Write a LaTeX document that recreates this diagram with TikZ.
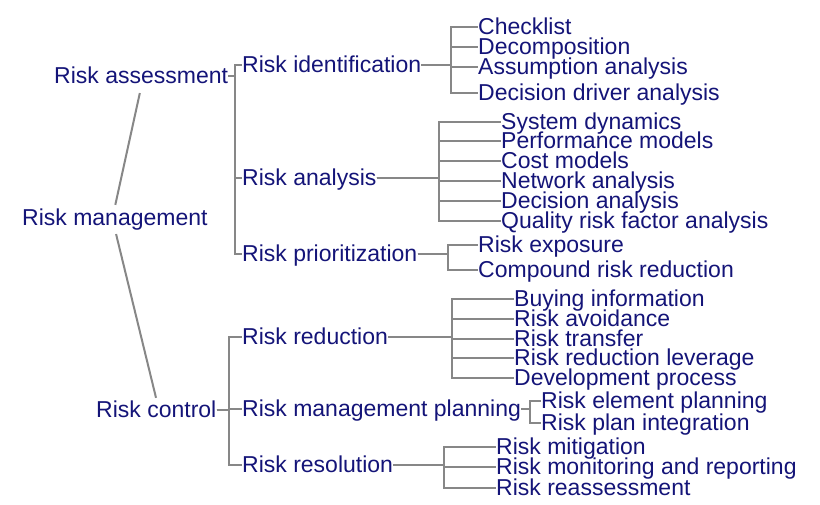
\documentclass[tikz,border=0pt]{standalone}
\usepackage{fontspec}
\setmainfont{Liberation Sans}
\usetikzlibrary{positioning}

\definecolor{navy}{RGB}{20,20,120}
\definecolor{linkgray}{RGB}{135,135,135}

\tikzset{
  item/.style={anchor=west, inner sep=0pt, text=navy, text height=18pt, text depth=4pt,
    font=\fontsize{23}{23}\selectfont},
  link/.style={draw=linkgray, line width=2pt},
}

\begin{document}
\begin{tikzpicture}[x=1pt,y=-1pt]
\useasboundingbox (0,0) rectangle (820,504);

            % first two levels
            \node[item] (rm) at (22,218) {Risk management};
            \node[item] (ra) at (54,76) {Risk assessment};
            \node[item] (rc) at (96,410) {Risk control};

            \draw[link, shorten <=6pt, shorten >=2pt] (ra.south) -- (rm.north);
            \draw[link, shorten <=5pt, shorten >=1pt] (rm.south) -- (rc.north);

            \node[item] (ident) at (242,65) {Risk identification};
            \node[item] (anal) at (242,178) {Risk analysis};
            \node[item] (prio) at (242,254) {Risk prioritization};
            \node[item] (redu) at (242,337) {Risk reduction};
            \node[item] (plan) at (242,409) {Risk management planning};
            \node[item] (reso) at (242,465) {Risk resolution};

            \foreach \n in {ident,anal,prio}{
              \draw[link] (ra.east) -| (235,0 |- \n.west) -- (\n.west);
            }
            \foreach \n in {redu,plan,reso}{
              \draw[link] (rc.east) -| (229,0 |- \n.west) -- (\n.west);
            }

            % leaves
            \foreach \txt/\yy [count=\i] in {Checklist/27,Decomposition/47,Assumption analysis/67,Decision driver analysis/93}{
              \node[item] (id\i) at (478,\yy) {\txt};
              \draw[link] (ident.east) -| (451,\yy) -- (id\i.west);
            }

            \foreach \txt/\yy [count=\i] in {System dynamics/122,Performance models/141,Cost models/161,Network analysis/181,Decision analysis/201,Quality risk factor analysis/221}{
              \node[item] (an\i) at (501,\yy) {\txt};
              \draw[link] (anal.east) -| (439,\yy) -- (an\i.west);
            }

            \foreach \txt/\yy [count=\i] in {Risk exposure/245,Compound risk reduction/270}{
              \node[item] (pr\i) at (478,\yy) {\txt};
              \draw[link] (prio.east) -| (448,\yy) -- (pr\i.west);
            }

            \foreach \txt/\yy [count=\i] in {Buying information/299,Risk avoidance/319,Risk transfer/339,Risk reduction leverage/358,Development process/378}{
              \node[item] (re\i) at (514,\yy) {\txt};
              \draw[link] (redu.east) -| (452,\yy) -- (re\i.west);
            }

            \foreach \txt/\yy [count=\i] in {Risk element planning/401,Risk plan integration/423}{
              \node[item] (pl\i) at (541,\yy) {\txt};
              \draw[link] (plan.east) -| (530,\yy) -- (pl\i.west);
            }

            \foreach \txt/\yy [count=\i] in {Risk mitigation/447,Risk monitoring and reporting/467,Risk reassessment/488}{
              \node[item] (rs\i) at (496,\yy) {\txt};
              \draw[link] (reso.east) -| (444,\yy) -- (rs\i.west);
            }
\end{tikzpicture}
\end{document}
